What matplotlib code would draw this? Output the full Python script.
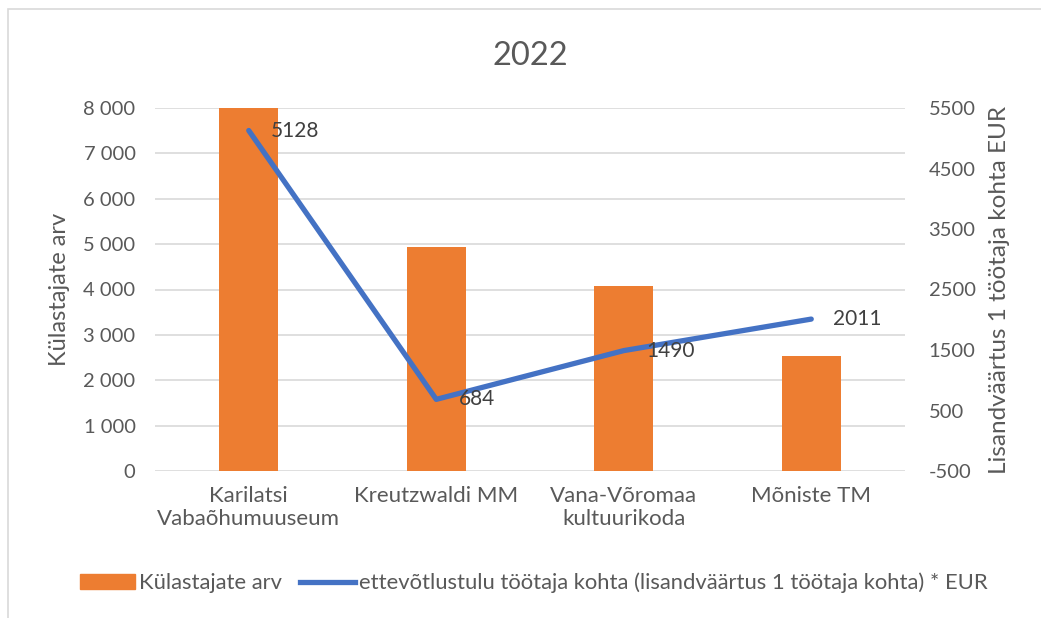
import matplotlib.pyplot as plt
from matplotlib.patches import Rectangle
from matplotlib.lines import Line2D
from matplotlib.ticker import FuncFormatter

plt.rcParams['font.family'] = ['Lato', 'DejaVu Sans']
plt.rcParams['axes.unicode_minus'] = False

# data
museums = ['Karilatsi\nVabaõhumuuseum', 'Kreutzwaldi MM', 'Vana-Võromaa\nkultuurikoda', 'Mõniste TM']
visitors = [8000, 4930, 4080, 2530]
value_added = [5128, 684, 1490, 2011]

orange = '#ED7D31'
blue = '#4472C4'
txt = '#595959'
grid = '#D9D9D9'

fig = plt.figure(figsize=(10.41, 6.18), dpi=100)
fig.patches.append(Rectangle((8 / 1041, -0.1), 1.2, 1 - 9 / 618 + 0.1, transform=fig.transFigure,
                             fill=False, edgecolor=grid, linewidth=1.2))

ax = fig.add_axes([155 / 1041, 1 - 471 / 618, 750 / 1041, (471 - 108) / 618])
x = range(len(museums))
ax.bar(x, visitors, width=0.315, color=orange, zorder=2)
ax.set_ylim(0, 8000)
ax.set_xlim(-0.5, len(museums) - 0.5)
ax.set_yticks(range(0, 8001, 1000))
ax.yaxis.set_major_formatter(FuncFormatter(lambda v, p: f'{int(v):,}'.replace(',', ' ')))
ax.set_xticks(list(x))
ax.set_xticklabels(museums, fontsize=16, color=txt, linespacing=1.2)
ax.grid(axis='y', color=grid, linewidth=1.2)
ax.set_axisbelow(True)
ax.tick_params(axis='both', length=0, labelcolor=txt)
ax.tick_params(axis='x', pad=11)
ax.tick_params(axis='y', pad=14, labelsize=14.5)
for s in ax.spines.values():
    s.set_visible(False)
ax.set_ylabel('Külastajate arv', fontsize=17, color=txt, labelpad=10)

ax2 = ax.twinx()
ax2.plot(list(x), value_added, color=blue, linewidth=3.8, solid_capstyle='round', solid_joinstyle='round', zorder=3)
ax2.set_ylim(-500, 5500)
ax2.set_yticks(range(-500, 5501, 1000))
ax2.tick_params(axis='y', length=0, labelsize=14.5, labelcolor=txt, pad=17)
for s in ax2.spines.values():
    s.set_visible(False)
ax2.set_ylabel('Lisandväärtus 1 töötaja kohta EUR', fontsize=17.5, color=txt, labelpad=10)
for i, v in enumerate(value_added):
    ax2.annotate(str(v), (i, v), xytext=(16, 0), textcoords='offset points',
                 va='center', ha='left', fontsize=15, color='#404040')

ax.set_title('2022', fontsize=23.5, color=txt, pad=31)

handles = [Rectangle((0, 0), 1, 1, color=orange),
           Line2D([0], [0], color=blue, linewidth=3.8)]
labels = ['Külastajate arv', 'ettevõtlustulu töötaja kohta (lisandväärtus 1 töötaja kohta) * EUR']
fig.legend(handles, labels, loc='center', bbox_to_anchor=(534 / 1041, 1 - 583 / 618), ncol=2,
           frameon=False, fontsize=15.8, labelcolor=txt, handlelength=2.5, handleheight=0.7,
           handletextpad=0.2, columnspacing=0.8)

fig.savefig('out.png', dpi=100)
